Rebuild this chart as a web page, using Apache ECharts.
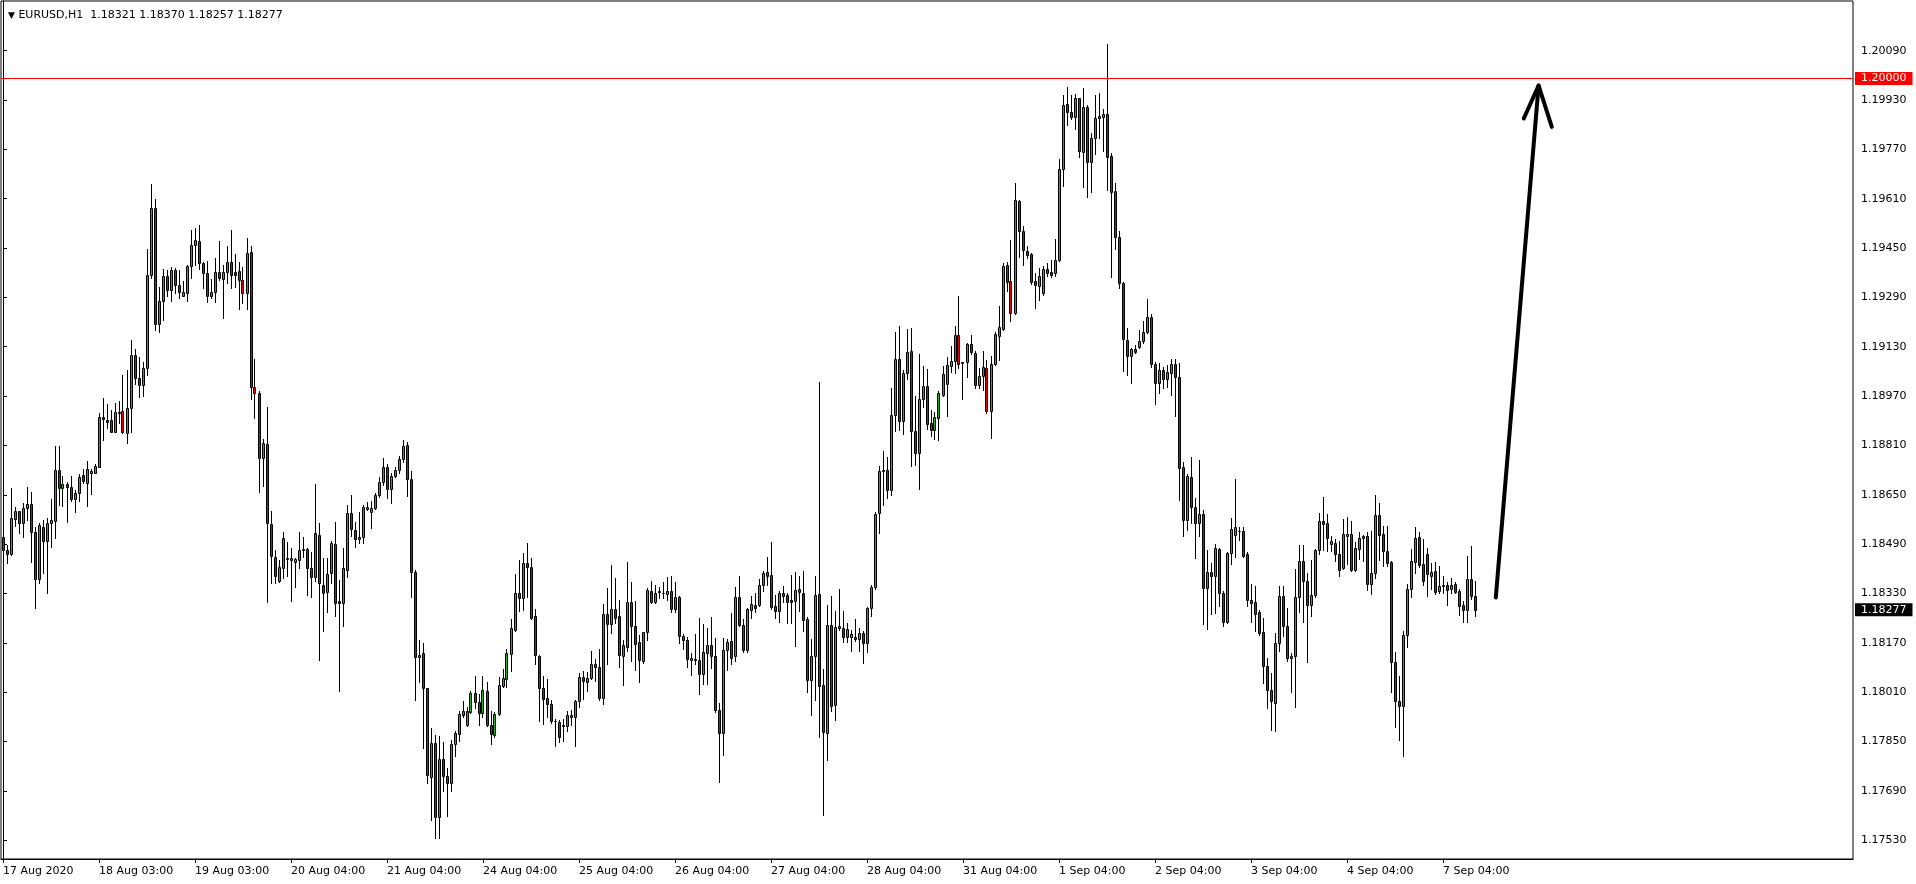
<!DOCTYPE html>
<html><head><meta charset="utf-8">
<script src="https://cdn.jsdelivr.net/npm/echarts@6/dist/echarts.min.js"></script>
<style>html,body{margin:0;padding:0;background:#fff}#c{width:1916px;height:884px}</style>
</head><body><div id="c"></div>
<script>
const symbol = 'EURUSD';
const timeframe = 'H1';

const open = [
1.18512,1.18471,1.18457,1.18571,1.18596,1.18560,1.18606,1.18620,1.18528,1.18376,
1.18547,1.18501,1.18560,1.18566,1.18731,1.18671,1.18685,1.18674,1.18635,1.18655,
1.18714,1.18689,1.18722,1.18722,1.18741,1.18901,1.18893,1.18893,1.18855,1.18914,
1.18922,1.18849,1.18931,1.19103,1.19027,1.19005,1.19060,1.19363,1.19579,1.19205,
1.19279,1.19360,1.19313,1.19379,1.19330,1.19296,1.19303,1.19392,1.19460,1.19473,
1.19401,1.19368,1.19296,1.19307,1.19371,1.19349,1.19371,1.19404,1.19371,1.19376,
1.19347,1.19303,1.19436,1.19001,1.18979,1.18770,1.18814,1.18554,1.18449,1.18370,
1.18411,1.18444,1.18444,1.18433,1.18440,1.18470,1.18474,1.18413,1.18382,1.18518,
1.18359,1.18336,1.18395,1.18489,1.18304,1.18298,1.18406,1.18590,1.18536,1.18505,
1.18514,1.18605,1.18595,1.18606,1.18649,1.18690,1.18739,1.18668,1.18711,1.18730,
1.18765,1.18811,1.18700,1.18400,1.18123,1.18136,1.18022,1.17736,1.17844,1.17606,
1.17794,1.17737,1.17716,1.17843,1.17875,1.17935,1.17905,1.17945,1.18007,1.17978,
1.17943,1.18013,1.17905,1.17870,1.17938,1.18029,1.18054,1.18135,1.18212,1.18331,
1.18316,1.18429,1.18416,1.18256,1.18127,1.18024,1.17991,1.17972,1.17915,1.17913,
1.17905,1.17899,1.17931,1.17931,1.17980,1.18059,1.18043,1.18056,1.18100,1.18091,
1.17992,1.18262,1.18232,1.18281,1.18256,1.18126,1.18158,1.18302,1.18226,1.18172,
1.18111,1.18204,1.18338,1.18301,1.18337,1.18331,1.18329,1.18338,1.18281,1.18320,
1.18191,1.18180,1.18115,1.18118,1.18113,1.18070,1.18138,1.18162,1.18126,1.17951,
1.17878,1.18148,1.18176,1.18126,1.18320,1.18228,1.18146,1.18276,1.18292,1.18292,
1.18359,1.18398,1.18390,1.18289,1.18274,1.18333,1.18325,1.18308,1.18306,1.18344,
1.18333,1.18246,1.18049,1.18127,1.18328,1.18033,1.17878,1.18228,1.17968,1.18219,
1.18217,1.18188,1.18188,1.18188,1.18181,1.18201,1.18168,1.18282,1.18350,1.18590,
1.18728,1.18729,1.18666,1.18910,1.19090,1.18888,1.19045,1.19115,1.18856,1.18785,
1.18960,1.19002,1.18882,1.18861,1.18899,1.18975,1.19010,1.19066,1.19083,1.19167,
1.19077,1.19079,1.19140,1.19110,1.19007,1.19036,1.19061,1.18920,1.19075,1.19166,
1.19187,1.19396,1.19342,1.19239,1.19601,1.19504,1.19439,1.19432,1.19344,1.19328,
1.19305,1.19381,1.19371,1.19368,1.19411,1.19705,1.19917,1.19892,1.19874,1.19935,
1.19762,1.19906,1.19730,1.19806,1.19871,1.19874,1.19885,1.19749,1.19636,1.19485,
1.19338,1.19152,1.19100,1.19122,1.19128,1.19147,1.19177,1.19225,1.19074,1.19013,
1.19054,1.19024,1.19046,1.19074,1.19031,1.18740,1.18569,1.18707,1.18610,1.18558,
1.18589,1.18348,1.18398,1.18387,1.18474,1.18333,1.18239,1.18461,1.18520,1.18534,
1.18531,1.18459,1.18308,1.18301,1.18269,1.18204,1.18096,1.18016,1.17975,1.18169,
1.18321,1.18225,1.18121,1.18128,1.18318,1.18434,1.18369,1.18293,1.18326,1.18470,
1.18564,1.18558,1.18489,1.18493,1.18457,1.18411,1.18517,1.18522,1.18407,1.18474,
1.18511,1.18515,1.18360,1.18395,1.18586,1.18522,1.18468,1.18433,1.18109,1.17982,
1.17966,1.18195,1.18346,1.18433,1.18512,1.18425,1.18457,1.18388,1.18403,1.18339,
1.18358,1.18358,1.18344,1.18362,1.18337,1.18292,1.18277,1.18377,1.18321
];
const high = [
1.18520,1.18487,1.18671,1.18609,1.18598,1.18622,1.18674,1.18658,1.18547,1.18560,
1.18568,1.18574,1.18635,1.18808,1.18808,1.18711,1.18692,1.18711,1.18666,1.18718,
1.18735,1.18761,1.18735,1.18750,1.18916,1.18963,1.18945,1.18925,1.18949,1.18955,
1.19039,1.19055,1.19152,1.19122,1.19098,1.19079,1.19447,1.19658,1.19610,1.19325,
1.19382,1.19379,1.19387,1.19384,1.19379,1.19343,1.19395,1.19509,1.19514,1.19525,
1.19406,1.19408,1.19350,1.19417,1.19473,1.19395,1.19455,1.19509,1.19430,1.19406,
1.19390,1.19484,1.19458,1.19090,1.18985,1.18831,1.18936,1.18598,1.18471,1.18439,
1.18530,1.18496,1.18479,1.18445,1.18529,1.18512,1.18476,1.18465,1.18685,1.18557,
1.18444,1.18444,1.18500,1.18562,1.18373,1.18479,1.18617,1.18649,1.18563,1.18595,
1.18617,1.18628,1.18630,1.18657,1.18709,1.18768,1.18750,1.18719,1.18739,1.18776,
1.18828,1.18822,1.18728,1.18405,1.18179,1.18168,1.18025,1.17893,1.17871,1.17868,
1.17848,1.17765,1.17856,1.17884,1.17949,1.17981,1.17962,1.18013,1.18061,1.18005,
1.18061,1.18043,1.17949,1.17945,1.18059,1.18086,1.18151,1.18248,1.18394,1.18439,
1.18461,1.18493,1.18446,1.18281,1.18132,1.18061,1.18053,1.17983,1.17924,1.17921,
1.17924,1.17949,1.17951,1.17985,1.18072,1.18078,1.18075,1.18145,1.18118,1.18151,
1.18297,1.18349,1.18421,1.18381,1.18310,1.18180,1.18432,1.18367,1.18305,1.18194,
1.18206,1.18349,1.18370,1.18356,1.18351,1.18367,1.18383,1.18385,1.18367,1.18322,
1.18199,1.18189,1.18137,1.18197,1.18251,1.18230,1.18219,1.18254,1.18186,1.17975,
1.18186,1.18183,1.18266,1.18351,1.18386,1.18246,1.18282,1.18322,1.18330,1.18378,
1.18404,1.18447,1.18498,1.18325,1.18339,1.18354,1.18332,1.18390,1.18400,1.18386,
1.18404,1.18255,1.18181,1.18386,1.19017,1.18084,1.18293,1.18322,1.18274,1.18343,
1.18274,1.18233,1.18211,1.18246,1.18217,1.18209,1.18287,1.18357,1.18595,1.18743,
1.18793,1.18772,1.18996,1.19177,1.19196,1.19053,1.19187,1.19191,1.18971,1.19108,
1.19069,1.19058,1.18924,1.18917,1.18988,1.19069,1.19097,1.19133,1.19198,1.19293,
1.19082,1.19142,1.19169,1.19115,1.19061,1.19115,1.19086,1.19099,1.19177,1.19263,
1.19400,1.19404,1.19477,1.19661,1.19607,1.19520,1.19455,1.19434,1.19368,1.19384,
1.19392,1.19403,1.19411,1.19478,1.19738,1.19946,1.19971,1.19946,1.19950,1.19937,
1.19968,1.19914,1.19822,1.19946,1.19954,1.19900,1.20110,1.19757,1.19660,1.19506,
1.19340,1.19190,1.19125,1.19136,1.19184,1.19215,1.19284,1.19236,1.19079,1.19076,
1.19063,1.19071,1.19089,1.19089,1.19077,1.18755,1.18718,1.18772,1.18639,1.18764,
1.18602,1.18472,1.18429,1.18491,1.18478,1.18337,1.18466,1.18575,1.18701,1.18545,
1.18545,1.18466,1.18362,1.18355,1.18277,1.18250,1.18121,1.18072,1.18202,1.18355,
1.18355,1.18283,1.18137,1.18409,1.18488,1.18488,1.18396,1.18439,1.18474,1.18591,
1.18643,1.18588,1.18515,1.18506,1.18501,1.18573,1.18577,1.18566,1.18498,1.18530,
1.18519,1.18528,1.18533,1.18649,1.18623,1.18550,1.18548,1.18435,1.18139,1.18061,
1.18209,1.18360,1.18474,1.18544,1.18528,1.18506,1.18476,1.18429,1.18433,1.18420,
1.18385,1.18366,1.18379,1.18368,1.18346,1.18306,1.18453,1.18485,1.18370
];
const low = [
1.18408,1.18428,1.18455,1.18549,1.18527,1.18514,1.18568,1.18433,1.18282,1.18363,
1.18395,1.18333,1.18482,1.18509,1.18617,1.18614,1.18563,1.18630,1.18595,1.18631,
1.18689,1.18612,1.18653,1.18720,1.18739,1.18826,1.18865,1.18852,1.18852,1.18884,
1.18850,1.18819,1.18855,1.19009,1.18968,1.18971,1.19039,1.19352,1.19185,1.19177,
1.19217,1.19293,1.19279,1.19303,1.19289,1.19293,1.19279,1.19354,1.19395,1.19382,
1.19322,1.19274,1.19287,1.19276,1.19347,1.19222,1.19336,1.19322,1.19325,1.19253,
1.19271,1.19253,1.18961,1.18900,1.18658,1.18680,1.18301,1.18363,1.18363,1.18368,
1.18381,1.18388,1.18306,1.18350,1.18413,1.18449,1.18325,1.18319,1.18371,1.18114,
1.18209,1.18271,1.18363,1.18258,1.18015,1.18225,1.18382,1.18516,1.18482,1.18495,
1.18492,1.18600,1.18541,1.18603,1.18642,1.18682,1.18638,1.18624,1.18706,1.18719,
1.18757,1.18646,1.18319,1.17986,1.18044,1.17828,1.17714,1.17597,1.17536,1.17536,
1.17691,1.17610,1.17691,1.17802,1.17851,1.17931,1.17899,1.17942,1.17960,1.17902,
1.17929,1.17899,1.17841,1.17864,1.17936,1.18027,1.18027,1.18078,1.18208,1.18273,
1.18277,1.18320,1.18248,1.18100,1.17918,1.17908,1.17929,1.17910,1.17836,1.17848,
1.17851,1.17884,1.17905,1.17837,1.17962,1.17989,1.18014,1.18054,1.18046,1.17983,
1.17972,1.18102,1.18202,1.18234,1.18093,1.18032,1.18143,1.18111,1.18083,1.18043,
1.18104,1.18180,1.18299,1.18299,1.18316,1.18316,1.18308,1.18270,1.18270,1.18169,
1.18151,1.18093,1.18064,1.18100,1.18003,1.18037,1.18037,1.18089,1.17945,1.17718,
1.17805,1.18083,1.18100,1.18111,1.18223,1.18141,1.18141,1.18249,1.18271,1.18289,
1.18339,1.18357,1.18278,1.18252,1.18238,1.18303,1.18235,1.18235,1.18159,1.18274,
1.18209,1.18011,1.17936,1.17986,1.17865,1.17611,1.17790,1.17950,1.17919,1.18211,
1.18174,1.18174,1.18144,1.18177,1.18144,1.18105,1.18141,1.18257,1.18346,1.18525,
1.18617,1.18640,1.18650,1.18856,1.18861,1.18848,1.19025,1.18744,1.18747,1.18669,
1.18934,1.18863,1.18839,1.18831,1.18828,1.18971,1.18906,1.19047,1.19045,1.19061,
1.18960,1.19032,1.19107,1.18996,1.18996,1.18991,1.18915,1.18834,1.19072,1.19088,
1.19185,1.19310,1.19212,1.19237,1.19421,1.19396,1.19418,1.19334,1.19255,1.19282,
1.19298,1.19359,1.19357,1.19359,1.19408,1.19651,1.19849,1.19867,1.19835,1.19746,
1.19647,1.19617,1.19633,1.19755,1.19806,1.19766,1.19638,1.19357,1.19446,1.19319,
1.19052,1.19038,1.19011,1.19109,1.19125,1.19143,1.19174,1.19065,1.18944,1.18979,
1.18995,1.18998,1.18973,1.18904,1.18634,1.18517,1.18537,1.18560,1.18445,1.18515,
1.18232,1.18215,1.18264,1.18266,1.18288,1.18225,1.18234,1.18426,1.18448,1.18502,
1.18448,1.18290,1.18236,1.18207,1.18196,1.18040,1.17958,1.17888,1.17883,1.18145,
1.18191,1.18110,1.18012,1.17963,1.18269,1.18236,1.18107,1.18256,1.18318,1.18459,
1.18470,1.18469,1.18469,1.18436,1.18385,1.18409,1.18425,1.18404,1.18404,1.18442,
1.18436,1.18342,1.18328,1.18379,1.18439,1.18418,1.18418,1.18011,1.17896,1.17856,
1.17802,1.18158,1.18317,1.18396,1.18415,1.18357,1.18323,1.18346,1.18328,1.18331,
1.18331,1.18292,1.18330,1.18330,1.18260,1.18238,1.18238,1.18312,1.18257
];
const close = [
1.18471,1.18457,1.18574,1.18596,1.18560,1.18606,1.18620,1.18528,1.18376,1.18552,
1.18501,1.18558,1.18568,1.18731,1.18673,1.18685,1.18674,1.18635,1.18655,1.18709,
1.18696,1.18733,1.18727,1.18744,1.18901,1.18895,1.18885,1.18855,1.18918,1.18918,
1.18852,1.18931,1.19103,1.19027,1.19005,1.19060,1.19363,1.19579,1.19203,1.19279,
1.19360,1.19313,1.19379,1.19330,1.19307,1.19309,1.19392,1.19460,1.19476,1.19401,
1.19368,1.19293,1.19307,1.19371,1.19352,1.19371,1.19404,1.19363,1.19363,1.19347,
1.19303,1.19433,1.19001,1.18979,1.18770,1.18817,1.18558,1.18453,1.18385,1.18417,
1.18509,1.18441,1.18437,1.18441,1.18471,1.18474,1.18413,1.18384,1.18525,1.18363,
1.18333,1.18392,1.18492,1.18300,1.18298,1.18411,1.18590,1.18538,1.18505,1.18514,
1.18611,1.18609,1.18606,1.18649,1.18690,1.18739,1.18668,1.18711,1.18730,1.18765,
1.18808,1.18700,1.18400,1.18123,1.18132,1.18022,1.17741,1.17844,1.17606,1.17792,
1.17737,1.17716,1.17841,1.17877,1.17938,1.17949,1.17949,1.18007,1.17978,1.17943,
1.18016,1.17904,1.17873,1.17938,1.18032,1.18056,1.18137,1.18218,1.18331,1.18316,
1.18429,1.18416,1.18251,1.18129,1.18024,1.17989,1.17972,1.17915,1.17917,1.17866,
1.17900,1.17935,1.17935,1.17980,1.18059,1.18046,1.18056,1.18102,1.18093,1.17992,
1.18262,1.18230,1.18281,1.18251,1.18129,1.18162,1.18302,1.18223,1.18167,1.18113,
1.18204,1.18340,1.18301,1.18333,1.18336,1.18330,1.18338,1.18281,1.18318,1.18191,
1.18180,1.18116,1.18122,1.18115,1.18070,1.18140,1.18162,1.18126,1.17953,1.17878,
1.18148,1.18172,1.18122,1.18318,1.18229,1.18146,1.18278,1.18296,1.18282,1.18359,
1.18395,1.18387,1.18285,1.18274,1.18330,1.18323,1.18303,1.18303,1.18341,1.18336,
1.18244,1.18049,1.18127,1.18325,1.18030,1.17882,1.18228,1.17965,1.18222,1.18225,
1.18188,1.18215,1.18198,1.18181,1.18201,1.18168,1.18282,1.18350,1.18587,1.18728,
1.18730,1.18666,1.18910,1.19090,1.18888,1.19045,1.19112,1.18856,1.18787,1.18960,
1.19002,1.18880,1.18861,1.18901,1.18980,1.19043,1.19072,1.19083,1.19167,1.19075,
1.19079,1.19140,1.19112,1.19007,1.19036,1.19064,1.18920,1.19075,1.19171,1.19194,
1.19391,1.19339,1.19239,1.19605,1.19504,1.19443,1.19428,1.19339,1.19330,1.19359,
1.19381,1.19368,1.19363,1.19411,1.19705,1.19914,1.19892,1.19874,1.19935,1.19766,
1.19906,1.19730,1.19806,1.19871,1.19878,1.19885,1.19746,1.19633,1.19485,1.19338,
1.19154,1.19100,1.19122,1.19112,1.19147,1.19177,1.19225,1.19074,1.19013,1.19054,
1.19024,1.19049,1.19074,1.19031,1.18737,1.18569,1.18712,1.18610,1.18558,1.18589,
1.18348,1.18398,1.18387,1.18477,1.18333,1.18239,1.18461,1.18539,1.18545,1.18531,
1.18450,1.18308,1.18299,1.18264,1.18202,1.18096,1.18016,1.17980,1.18169,1.18321,
1.18225,1.18121,1.18128,1.18318,1.18434,1.18369,1.18293,1.18326,1.18470,1.18564,
1.18556,1.18509,1.18499,1.18457,1.18407,1.18522,1.18522,1.18406,1.18476,1.18511,
1.18517,1.18360,1.18395,1.18586,1.18519,1.18468,1.18428,1.18109,1.17982,1.17966,
1.18195,1.18346,1.18436,1.18509,1.18422,1.18371,1.18393,1.18401,1.18336,1.18355,
1.18355,1.18342,1.18359,1.18334,1.18290,1.18277,1.18377,1.18321,1.18277
];

// x axis: one label every 24 hourly bars
const xTickLabels = ['17 Aug 2020','18 Aug 03:00','19 Aug 03:00','20 Aug 04:00','21 Aug 04:00',
  '24 Aug 04:00','25 Aug 04:00','26 Aug 04:00','27 Aug 04:00','28 Aug 04:00','31 Aug 04:00',
  '1 Sep 04:00','2 Sep 04:00','3 Sep 04:00','4 Sep 04:00','7 Sep 04:00'];
const barsPerLabel = 24;
const totalSlots = 463; // bars + empty shift area on the right

const yTickValues = [1.17530,1.17690,1.17850,1.18010,1.18170,1.18330,1.18490,1.18650,
  1.18810,1.18970,1.19130,1.19290,1.19450,1.19610,1.19770,1.19930,1.20090];
const yMin = 1.17469, yMax = 1.20251;

const levelPrice = 1.20000;
// hand-drawn arrow (bar position, price)
const arrowShaft = [[373.2, 1.18317], [383.9, 1.19977]];
const arrowHead = [[380.2, 1.19870], [383.9, 1.19977], [387.2, 1.19843]];

const BULL = '#1fb41f', BEAR = '#e80000';
const categories = Array.from({length: totalSlots}, (_, i) => String(i));
const candleRows = open.map((o, i) => [i, o, close[i], low[i], high[i]]);
const last = open.length - 1;
const FONT = 'DejaVu Sans';
const FS = 11;

function renderCandle(params, api) {
  const i = api.value(0), o = api.value(1), c = api.value(2), l = api.value(3), h = api.value(4);
  const pO = api.coord([i, o]), pC = api.coord([i, c]);
  const yH = api.coord([i, h])[1], yL = api.coord([i, l])[1];
  const cx = Math.floor(pO[0]) + 0.5;
  const yTop = Math.round(Math.min(pO[1], pC[1])) + 0.5;
  const yBot = Math.round(Math.max(pO[1], pC[1])) + 0.5;
  return {
    type: 'group',
    children: [
      {type: 'line', shape: {x1: cx, y1: Math.round(yH), x2: cx, y2: Math.round(yL) + 1},
        style: {stroke: '#000', lineWidth: 1}},
      {type: 'rect', shape: {x: cx - 1, y: yTop, width: 2, height: Math.max(yBot - yTop, 0)},
        style: {fill: c >= o ? BULL : BEAR, stroke: '#000', lineWidth: 1}}
    ]
  };
}

function priceTagAxis(value, bg) {
  return {
    type: 'value', position: 'right', offset: 0, min: yMin, max: yMax, scale: true,
    axisLine: {show: false}, axisTick: {show: false}, splitLine: {show: false},
    axisLabel: {show: true, customValues: [value], formatter: v => v.toFixed(5), margin: 2,
      color: '#fff', backgroundColor: bg, padding: [0, 6, 0, 6], lineHeight: 13,
      fontFamily: FONT, fontSize: FS}
  };
}

const chart = echarts.init(document.getElementById('c'), null, {renderer: 'canvas'});
chart.setOption({
  animation: false,
  backgroundColor: '#ffffff',
  title: {
    left: 3, top: 5,
    text: '{tri|▼} ' + symbol + ',' + timeframe + '  ' +
      [open[last], high[last], low[last], close[last]].map(v => v.toFixed(5)).join(' '),
    textStyle: {fontFamily: FONT, fontSize: FS, fontWeight: 'normal', color: '#000',
      rich: {tri: {fontSize: 9, color: '#000', fontFamily: FONT}}}
  },
  grid: {left: 1, top: 1, width: 1852, height: 858, containLabel: false, outerBoundsMode: 'none',
    show: true, borderColor: '#000', borderWidth: 1, backgroundColor: 'transparent'},
  xAxis: [{
    type: 'category', data: categories, boundaryGap: true,
    axisLine: {show: true, lineStyle: {color: '#000', width: 1}},
    axisTick: {show: true, length: 4, interval: (i) => i % barsPerLabel === 0 && i / barsPerLabel < xTickLabels.length, alignWithLabel: true, lineStyle: {color: '#000'}},
    axisLabel: {
      show: true, interval: (i) => i % barsPerLabel === 0 && i / barsPerLabel < xTickLabels.length,
      formatter: (v, i) => xTickLabels[Math.round(i / barsPerLabel)] || '',
      align: 'left', margin: 7, color: '#000', fontFamily: FONT, fontSize: FS
    },
    splitLine: {show: false}
  }, {
    type: 'value', min: -0.5, max: totalSlots - 0.5, show: false
  }],
  yAxis: [{
    type: 'value', position: 'right', min: yMin, max: yMax, scale: true,
    axisLine: {show: true, lineStyle: {color: '#000', width: 1}},
    axisTick: {show: true, length: 4, customValues: yTickValues, lineStyle: {color: '#000'}},
    axisLabel: {show: true, customValues: yTickValues, formatter: v => v.toFixed(5), margin: 8,
      color: '#000', fontFamily: FONT, fontSize: FS},
    splitLine: {show: false}
  },
    priceTagAxis(levelPrice, '#ff0000'),
    priceTagAxis(close[last], '#000000')
  ],
  series: [{
    type: 'custom', renderItem: renderCandle, data: candleRows,
    encode: {x: 0, y: [1, 2, 3, 4]}, silent: true, clip: true,
    markLine: {
      silent: true, symbol: ['none', 'none'], animation: false,
      label: {show: false},
      data: [{yAxis: levelPrice, lineStyle: {color: '#ff0000', width: 1, type: 'solid'}}]
    }
  }, {
    type: 'line', xAxisIndex: 1, data: arrowShaft, symbol: 'none', silent: true,
    lineStyle: {color: '#000', width: 4, cap: 'round'}
  }, {
    type: 'line', xAxisIndex: 1, data: arrowHead, symbol: 'none', silent: true,
    lineStyle: {color: '#000', width: 4, cap: 'round', join: 'round'}
  }]
});
</script>
</body></html>
